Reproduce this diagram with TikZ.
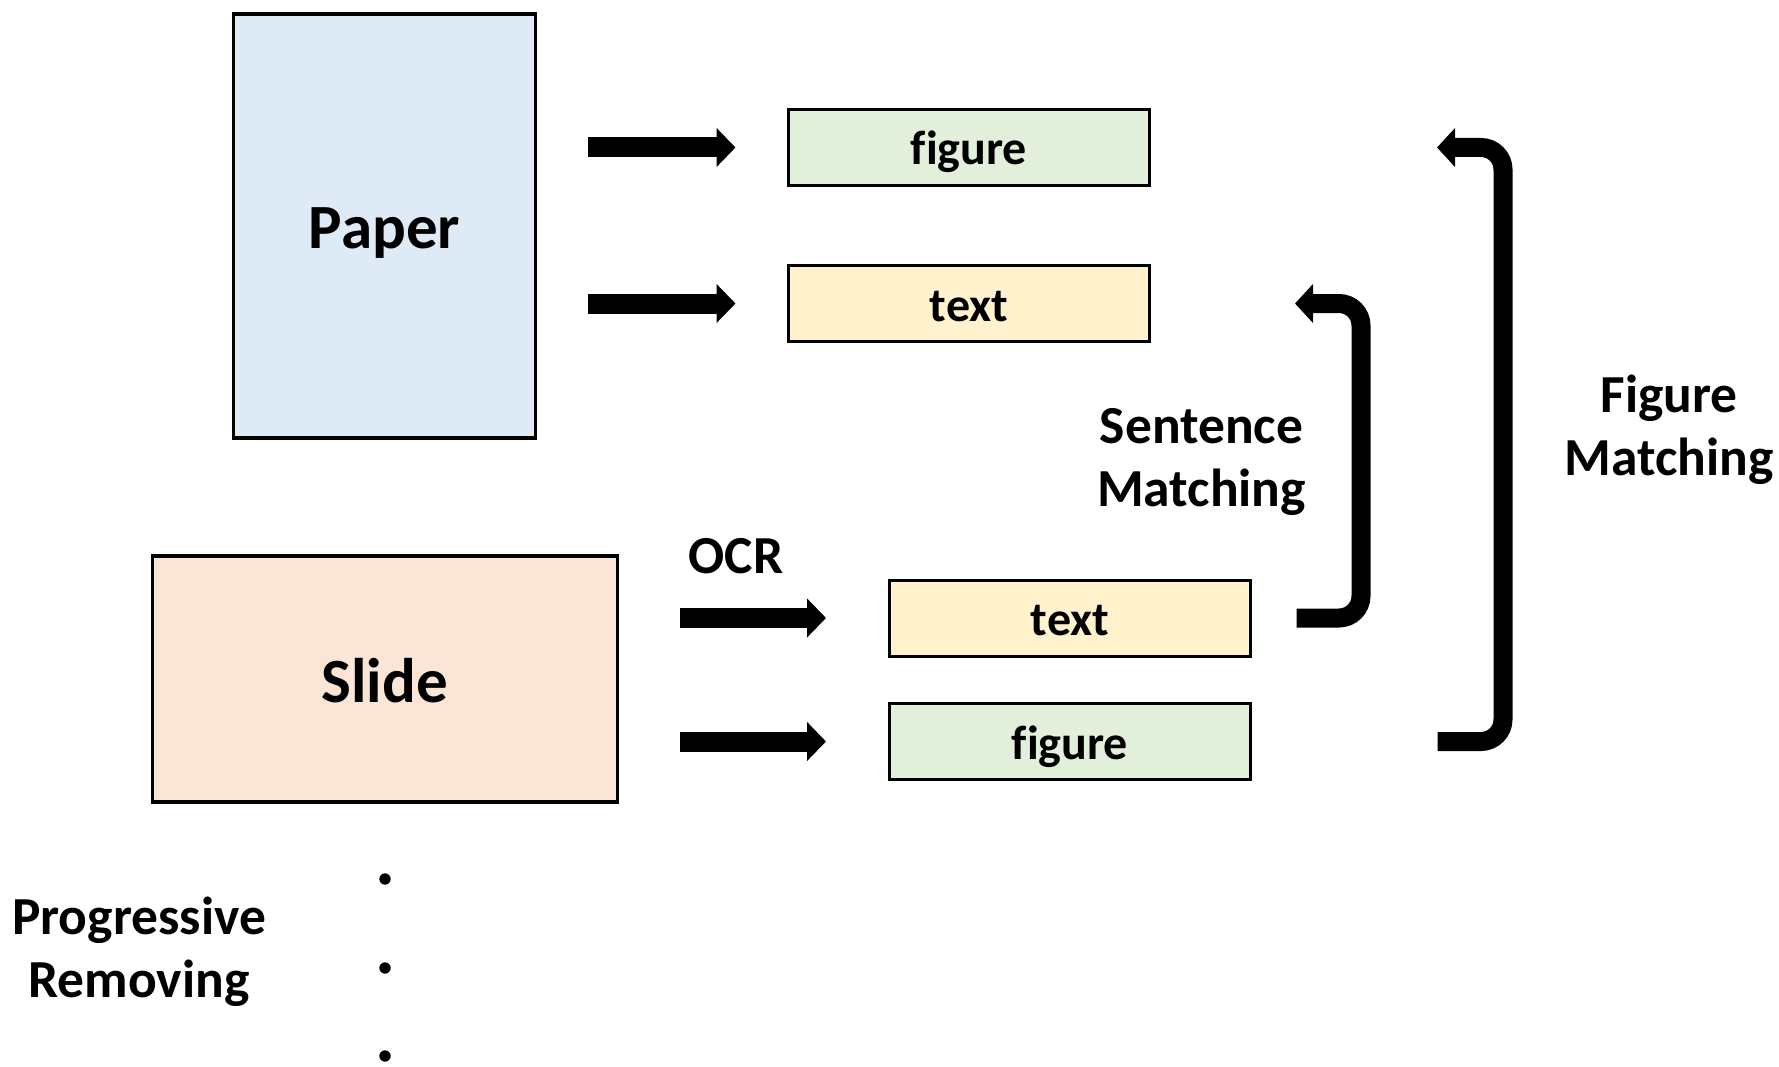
\documentclass[tikz,border=0pt]{standalone}
\usepackage{fontspec}
\setmainfont{Carlito}[Ligatures=NoCommon]
\usetikzlibrary{arrows.meta}
\definecolor{paperblue}{HTML}{DEEAF6}
\definecolor{slidepeach}{HTML}{FBE5D6}
\definecolor{figgreen}{HTML}{E2EFDA}
\definecolor{textyellow}{HTML}{FFF2CC}
\tikzset{
  doc/.style={draw=black, line width=3.2pt, inner sep=0pt,
    text height=50pt, text depth=4pt,
    font=\fontsize{63}{70}\selectfont\bfseries},
  part/.style={draw=black, line width=3pt, minimum width=361pt, minimum height=76pt,
    inner sep=0pt, text height=38pt, text depth=3pt,
    font=\fontsize{48}{56}\selectfont\bfseries},
  lbl/.style={inner sep=0pt, align=center, font=\fontsize{53.5}{63}\selectfont\bfseries},
  bigarrow/.style={line width=20pt, -{Triangle[length=19pt, width=38pt]}},
  matcharrow/.style={line width=19pt, rounded corners=22pt, -{Triangle[length=18pt, width=38pt]}},
}
\begin{document}
\begin{tikzpicture}[x=1pt, y=-1pt]
  \useasboundingbox (0,0) rectangle (1779,1067);

  % source documents
  \node[doc, fill=paperblue, minimum width=302pt, minimum height=424pt] (paper) at (384.6,226) {Paper};
  \node[doc, fill=slidepeach, minimum width=465pt, minimum height=246pt] (slide) at (384.6,679) {Slide};

  % extracted parts
  \node[part, fill=figgreen] (pfig) at (969,147.5) {figure};
  \node[part, fill=textyellow] (ptext) at (969,303.5) {text};
  \node[part, fill=textyellow] (stext) at (1070,618) {text};
  \node[part, fill=figgreen] (sfig) at (1070,741.5) {figure};

  % extraction arrows
  \draw[bigarrow] ([xshift=51pt]paper.east |- pfig) -- ([xshift=-51.5pt]pfig.west);
  \draw[bigarrow] ([xshift=51pt]paper.east |- ptext) -- ([xshift=-51.5pt]ptext.west);
  \draw[bigarrow] ([xshift=61pt]slide.east |- stext) -- ([xshift=-62pt]stext.west);
  \draw[bigarrow] ([xshift=61pt]slide.east |- sfig) -- ([xshift=-62pt]sfig.west);
  \node[lbl] (ocr) at (736,556) {OCR};

  % matching brackets
  \coordinate (sA) at ([xshift=44.5pt]stext.east);
  \coordinate (sB) at ([xshift=144pt]ptext.east);
  \draw[matcharrow] (sA) -- (1361,618) -- (1361,303.5) -- (sB);
  \node[lbl] (sentm) at (1201.5,462) {Sentence\\Matching};

  \coordinate (fA) at ([xshift=185.5pt]sfig.east);
  \coordinate (fB) at ([xshift=286pt]pfig.east);
  \draw[matcharrow] (fA) -- (1503,741.5) -- (1503,147.5) -- (fB);
  \node[lbl] (figm) at (1669,430) {Figure\\Matching};

  % progressive removing
  \node[lbl] (prog) at (139,952) {Progressive\\Removing};
  \foreach \yy [count=\i] in {879,968,1056}
    \fill (385,\yy) circle (5.7pt) coordinate (dot\i);
\end{tikzpicture}
\end{document}
